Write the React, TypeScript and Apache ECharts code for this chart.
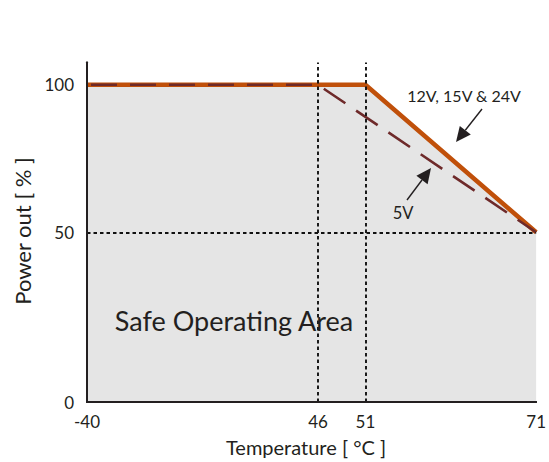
import React, { useEffect, useRef } from "react";
import * as echarts from "echarts";

// Schematic axes: break values and their relative positions (0-100) along the axis
const xBreaks = [-40, 46, 51, 71];
const xPos = [0, 51.43, 61.98, 100];
const yBreaks = [0, 50, 100];
const yPos = [0, 50, 93.43];

// Derating curves (temperature °C, power %)
const mainTemp = [-40, 51, 71];
const mainPower = [100, 100, 50];
const fiveVTemp = [-40, 46, 71];
const fiveVPower = [100, 100, 50];

// Reference (dotted) lines
const refTemps = [46, 51];
const refPowers = [50];

const FONT = "Lato, 'Open Sans', sans-serif";
const TEXT = "#231f20";

function pw(v: number, from: number[], to: number[]) {
  for (let i = 0; i < from.length - 1; i++) {
    if (v <= from[i + 1] || i === from.length - 2) {
      const t = (v - from[i]) / (from[i + 1] - from[i]);
      return to[i] + t * (to[i + 1] - to[i]);
    }
  }
  return to[0];
}
const toX = (t: number) => pw(t, xBreaks, xPos);
const toY = (p: number) => pw(p, yBreaks, yPos);

function labelFor(v: number, pos: number[], vals: number[]) {
  let best = 0;
  for (let i = 0; i < pos.length; i++) {
    if (Math.abs(pos[i] - v) < Math.abs(pos[best] - v)) best = i;
  }
  return String(vals[best]);
}

function arrow(tail: number[], tip: number[], len = 15, half = 7) {
  const dx = tip[0] - tail[0];
  const dy = tip[1] - tail[1];
  const d = Math.sqrt(dx * dx + dy * dy);
  const ux = dx / d;
  const uy = dy / d;
  const bx = tip[0] - ux * len;
  const by = tip[1] - uy * len;
  return [
    {
      type: "line",
      shape: { x1: tail[0], y1: tail[1], x2: bx, y2: by },
      style: { stroke: TEXT, lineWidth: 1.4 },
      z: 20,
    },
    {
      type: "polygon",
      shape: {
        points: [
          [tip[0], tip[1]],
          [bx - uy * half, by + ux * half],
          [bx + uy * half, by - ux * half],
        ],
      },
      style: { fill: TEXT },
      z: 20,
    },
  ];
}

export default function App() {
  const ref = useRef<HTMLDivElement>(null);
  useEffect(() => {
    document.body.style.margin = "0";
    const chart = echarts.init(ref.current!, null, { renderer: "svg" });
    const axisLine = { show: true, lineStyle: { color: TEXT, width: 2 } };
    const option: any = {
      animation: false,
      backgroundColor: "#ffffff",
      grid: { left: 87, right: 7, top: 62.5, bottom: 60 },
      xAxis: [
        {
          type: "value",
          min: 0,
          max: 100,
          position: "bottom",
          z: 10,
          axisLine,
          axisTick: { show: false },
          splitLine: { show: false },
          axisLabel: {
            customValues: xBreaks.map(toX),
            formatter: (v: number) => labelFor(v, xPos, xBreaks),
            fontSize: 17,
            color: TEXT,
            fontFamily: FONT,
            margin: 11,
          },
        },
        {
          type: "value",
          min: 0,
          max: 100,
          position: "top",
          z: 10,
          axisLine,
          axisTick: { show: false },
          splitLine: { show: false },
          axisLabel: { show: false },
        },
      ],
      yAxis: [
        {
          type: "value",
          min: 0,
          max: 100,
          position: "left",
          z: 10,
          axisLine,
          axisTick: { show: false },
          splitLine: { show: false },
          axisLabel: {
            customValues: yBreaks.map(toY),
            formatter: (v: number) => labelFor(v, yPos, yBreaks),
            fontSize: 17,
            color: TEXT,
            fontFamily: FONT,
            margin: 13,
          },
        },
        {
          type: "value",
          min: 0,
          max: 100,
          position: "right",
          z: 10,
          axisLine,
          axisTick: { show: false },
          splitLine: { show: false },
          axisLabel: { show: false },
        },
      ],
      series: [
        {
          type: "line",
          name: "12V, 15V & 24V",
          data: mainTemp.map((t, i) => [toX(t), toY(mainPower[i])]),
          symbol: "none",
          lineStyle: { color: "#c0500a", width: 4.5 },
          areaStyle: { color: "#e5e5e5", opacity: 1 },
          z: 2,
        },
        {
          type: "line",
          name: "5V",
          data: fiveVTemp.map((t, i) => [toX(t), toY(fiveVPower[i])]),
          symbol: "none",
          lineStyle: { color: "#6e2a2a", width: 2.6, type: [26, 13], dashOffset: -4 },
          z: 3,
          markLine: {
            silent: true,
            symbol: "none",
            label: { show: false },
            lineStyle: { color: "#111111", width: 1.9, type: [3.5, 3] },
            data: [
              ...refTemps.map((t) => ({ xAxis: toX(t) })),
              ...refPowers.map((p) => ({ yAxis: toY(p) })),
            ],
            z: 4,
          },
        },
      ],
      graphic: [
        {
          type: "text",
          x: 234,
          y: 320,
          z: 20,
          style: {
            text: "Safe Operating Area",
            fontSize: 27,
            fontFamily: FONT,
            fill: TEXT,
            align: "center",
            verticalAlign: "middle",
          },
        },
        {
          type: "text",
          x: 464,
          y: 95,
          z: 20,
          style: {
            text: "12V, 15V & 24V",
            fontSize: 16,
            fontFamily: FONT,
            fill: TEXT,
            align: "center",
            verticalAlign: "middle",
          },
        },
        {
          type: "text",
          x: 403,
          y: 213,
          z: 20,
          style: {
            text: "5V",
            fontSize: 16.5,
            fontFamily: FONT,
            fill: TEXT,
            align: "center",
            verticalAlign: "middle",
          },
        },
        {
          type: "text",
          x: 22,
          y: 231,
          rotation: Math.PI / 2,
          z: 20,
          style: {
            text: "Power out [ % ]",
            fontSize: 22,
            fontFamily: FONT,
            fill: TEXT,
            align: "center",
            verticalAlign: "middle",
          },
        },
        {
          type: "text",
          x: 306,
          y: 447,
          z: 20,
          style: {
            text: "Temperature [ °C ]",
            fontSize: 20,
            fontFamily: FONT,
            fill: TEXT,
            align: "center",
            verticalAlign: "middle",
          },
        },
        ...arrow([482, 109], [456, 142]),
        ...arrow([407, 200], [431, 168]),
      ],
    };
    chart.setOption(option);
    return () => chart.dispose();
  }, []);
  return <div ref={ref} style={{ width: 549, height: 462 }} />;
}
